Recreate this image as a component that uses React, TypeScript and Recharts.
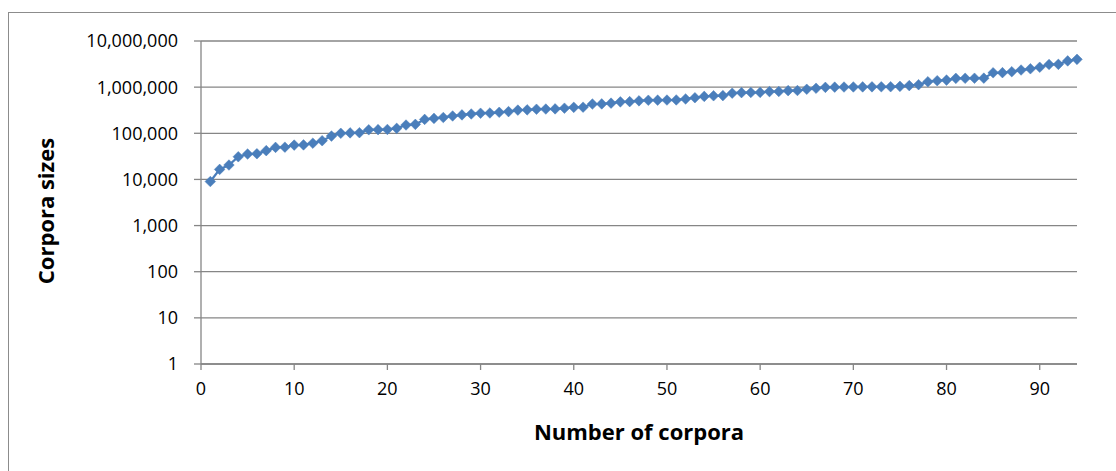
import React from 'react';
import { LineChart, Line, XAxis, YAxis, CartesianGrid, Label } from 'recharts';

// corpus sizes, sorted ascending (one entry per corpus, x = 1..94)
const corporaSizes = [
  9000, 16500, 20500, 31000, 35500, 36000, 42000, 49500, 50000, 55500,
  56000, 61000, 69000, 87000, 100000, 102000, 103000, 119000, 120000, 121000,
  128000, 151000, 156000, 200000, 210000, 220000, 237000, 250000, 262000, 272000,
  275000, 285000, 295000, 318000, 322000, 332000, 335000, 338000, 350000, 365000,
  368000, 430000, 433000, 450000, 480000, 485000, 505000, 520000, 522000, 525000,
  528000, 555000, 590000, 630000, 650000, 655000, 740000, 760000, 765000, 770000,
  800000, 805000, 840000, 845000, 900000, 945000, 990000, 1000000, 1005000, 1010000,
  1012000, 1015000, 1018000, 1020000, 1040000, 1080000, 1130000, 1310000, 1380000, 1420000,
  1550000, 1555000, 1560000, 1565000, 2050000, 2060000, 2160000, 2350000, 2500000, 2700000,
  3100000, 3120000, 3700000, 4000000,
];

const xTicks = [0, 10, 20, 30, 40, 50, 60, 70, 80, 90];
const yTicks = [1, 10, 100, 1000, 10000, 100000, 1000000, 10000000];

const data = corporaSizes.map((size, i) => ({ n: i + 1, size }));

const BLUE = '#4A7EBB';
const GRID = '#868686';
const FONT = '"Open Sans", sans-serif';

const Diamond = (props: any) => {
  const { cx, cy, index } = props;
  if (cx == null || cy == null) return null;
  const r = 5.3;
  return (
    <path
      key={`d-${index}`}
      d={`M${cx},${cy - r} L${cx + r},${cy} L${cx},${cy + r} L${cx - r},${cy} Z`}
      fill={BLUE}
      stroke={BLUE}
      strokeWidth={0.5}
    />
  );
};

export default function App() {
  return (
    <div style={{ position: 'absolute', left: 0, top: 0, width: 1116, height: 471, background: '#fff' }}>
      <div
        style={{
          position: 'absolute',
          left: 8,
          top: 12,
          width: 1120,
          height: 470,
          border: '1px solid #8c8c8c',
        }}
      />
      <LineChart
        width={1116}
        height={471}
        data={data}
        margin={{ top: 41, right: 39, bottom: 27, left: 0 }}
        style={{ position: 'absolute', left: 0, top: 0 }}
      >
        <CartesianGrid horizontal vertical={false} stroke={GRID} strokeWidth={1.3} />
        <XAxis
          type="number"
          dataKey="n"
          domain={[0, 94]}
          ticks={xTicks}
          height={80}
          stroke={GRID}
          strokeWidth={1.3}
          tickSize={6}
          tickMargin={12}
          tick={{ fill: '#000', fontSize: 18, fontFamily: FONT }}
        >
          <Label
            content={() => (
              <text
                x={639}
                y={440}
                textAnchor="middle"
                fontFamily={FONT}
                fontSize={22}
                fontWeight="bold"
                fill="#000"
              >
                Number of corpora
              </text>
            )}
          />
        </XAxis>
        <YAxis
          type="number"
          scale="log"
          domain={[1, 10000000]}
          ticks={yTicks}
          allowDataOverflow
          width={201}
          stroke={GRID}
          strokeWidth={1.3}
          tickSize={7}
          tickMargin={16}
          tickFormatter={(v: number) => v.toLocaleString('en-US')}
          tick={{ fill: '#000', fontSize: 18, fontFamily: FONT }}
        >
          <Label
            content={() => (
              <text
                x={0}
                y={0}
                transform="translate(54, 211) rotate(-90)"
                textAnchor="middle"
                fontFamily={FONT}
                fontSize={22}
                fontWeight="bold"
                fill="#000"
              >
                Corpora sizes
              </text>
            )}
          />
        </YAxis>
        <Line
          type="linear"
          dataKey="size"
          stroke={BLUE}
          strokeWidth={2.25}
          dot={<Diamond />}
          activeDot={false}
          isAnimationActive={false}
        />
      </LineChart>
    </div>
  );
}
